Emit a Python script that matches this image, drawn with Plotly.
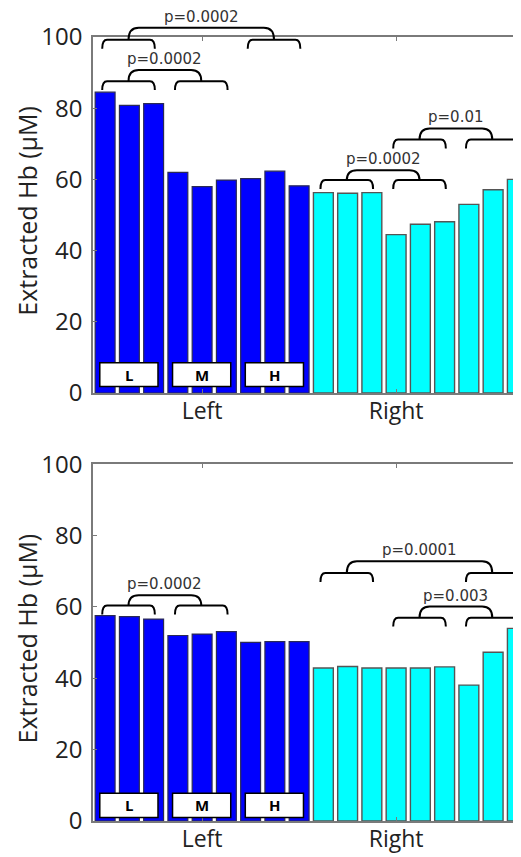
import plotly.graph_objects as go

# ---------------- data ----------------
bar_positions = list(range(1, 19))
left_positions = bar_positions[:9]
right_positions = bar_positions[9:]

top_left_values = [84.5, 80.8, 81.3, 62.0, 58.0, 59.8, 60.2, 62.3, 58.2]
top_right_values = [56.3, 56.1, 56.3, 44.5, 47.4, 48.1, 53.0, 57.1, 60.0]
bottom_left_values = [57.6, 57.3, 56.6, 52.0, 52.4, 53.1, 50.1, 50.3, 50.3]
bottom_right_values = [42.9, 43.3, 42.9, 42.9, 42.9, 43.2, 38.1, 47.3, 54.0]

xtick_vals = [5, 13]
xtick_text = ["Left", "Right"]
ytick_vals = [0, 20, 40, 60, 80, 100]
level_labels = ["L", "M", "H"]
level_starts = [1, 4, 7]

# brackets: (first group start bar, second group start bar, small-bracket level, connector level, label)
top_brackets = [
    (1, 7, 99.2, 102.6, "p=0.0002"),
    (1, 4, 87.6, 90.7, "p=0.0002"),
    (10, 13, 59.8, 62.6, "p=0.0002"),
    (13, 16, 71.2, 74.3, "p=0.01"),
]
bottom_brackets = [
    (1, 4, 60.4, 63.3, "p=0.0002"),
    (10, 16, 69.5, 72.8, "p=0.0001"),
    (13, 16, 57.0, 60.1, "p=0.003"),
]

y_title = "Extracted Hb (μM)"

# ---------------- figure ----------------
BLUE = "#0000FF"
CYAN = "#00FFFF"
AXIS = "#7a7a7a"
BAR_W = 0.82

fig = go.Figure()
panels = [
    ("x", "y", top_left_values, top_right_values, top_brackets, (1.8, 8.5)),
    ("x2", "y2", bottom_left_values, bottom_right_values, bottom_brackets, (1.0, 7.8)),
]

shapes = []
annotations = []

for xr, yr, lv, rv, brackets, box_y in panels:
    fig.add_trace(go.Bar(x=left_positions, y=lv, width=BAR_W, xaxis=xr, yaxis=yr,
                         marker=dict(color=BLUE, line=dict(color="#2a2a55", width=1.2)),
                         showlegend=False, hoverinfo="skip"))
    fig.add_trace(go.Bar(x=right_positions, y=rv, width=BAR_W, xaxis=xr, yaxis=yr,
                         marker=dict(color=CYAN, line=dict(color="#555555", width=1.4)),
                         showlegend=False, hoverinfo="skip"))

    ydom = yr + " domain"
    hook = 0.025
    dx = 0.2
    dx2 = 0.42
    for g1, g2, ys, yc, lab in brackets:
        s = ys / 100.0
        c = yc / 100.0
        for a in (g1, g2):
            x0 = a - 0.12
            x1 = a + 2.05
            path = (f"M {x0},{s - hook} Q {x0},{s} {x0 + dx},{s} "
                    f"L {x1 - dx},{s} Q {x1},{s} {x1},{s - hook}")
            shapes.append(dict(type="path", xref=xr, yref=ydom, path=path,
                               line=dict(color="black", width=2)))
        cA = g1 + 0.965
        cB = g2 + 0.965
        path = (f"M {cA},{s} Q {cA},{c} {cA + dx2},{c} "
                f"L {cB - dx2},{c} Q {cB},{c} {cB},{s}")
        shapes.append(dict(type="path", xref=xr, yref=ydom, path=path,
                           line=dict(color="black", width=2)))
        annotations.append(dict(x=(cA + cB) / 2, y=c, xref=xr, yref=ydom,
                                text=lab, showarrow=False, yanchor="middle", yshift=11,
                                font=dict(family="DejaVu Sans", size=15, color="#333333")))

    for st, lab in zip(level_starts, level_labels):
        shapes.append(dict(type="rect", xref=xr, yref=yr, x0=st - 0.22, x1=st + 2.18,
                           y0=box_y[0], y1=box_y[1], fillcolor="white",
                           line=dict(color="black", width=1.5)))
        annotations.append(dict(x=st + 0.98, y=(box_y[0] + box_y[1]) / 2, xref=xr, yref=yr,
                                text=f"<b>{lab}</b>", showarrow=False,
                                font=dict(family="Open Sans", size=15, color="black")))

# y titles
for dom in ([0.5459, 1.0], [0.0, 0.455]):
    annotations.append(dict(x=-0.155, y=(dom[0] + dom[1]) / 2 + 0.005, xref="paper", yref="paper",
                            text=y_title, textangle=-90, showarrow=False,
                            xanchor="center", yanchor="middle",
                            font=dict(family="Open Sans", size=25, color="#222222")))

xaxis_common = dict(range=[0.5, 18.15], tickvals=xtick_vals, ticktext=xtick_text,
                    ticks="inside", ticklen=4, tickcolor=AXIS, tickwidth=1.2,
                    showline=True, linecolor=AXIS, linewidth=1.5, mirror="ticks",
                    showgrid=False, zeroline=False, fixedrange=True, ticklabelstandoff=-3,
                    tickfont=dict(family="Open Sans", size=23, color="#222222"))
yaxis_common = dict(range=[0, 100], tickvals=ytick_vals,
                    ticks="inside", ticklen=4, tickcolor=AXIS, tickwidth=1.2,
                    showline=True, linecolor=AXIS, linewidth=1.5, mirror=False,
                    showgrid=False, zeroline=False, fixedrange=True, ticklabelstandoff=4,
                    tickfont=dict(family="Open Sans", size=24, color="#222222"))

# the page body adds an 8px offset; the figure is sized to fill the rest of the window
fig.update_layout(
    width=513, height=849,
    margin=dict(l=85, r=0, t=29, b=36, autoexpand=False),
    paper_bgcolor="white", plot_bgcolor="white",
    barmode="overlay",
    xaxis=dict(domain=[0, 1], anchor="y", **xaxis_common),
    yaxis=dict(domain=[0.5459, 1.0], anchor="x", **yaxis_common),
    xaxis2=dict(domain=[0, 1], anchor="y2", **xaxis_common),
    yaxis2=dict(domain=[0.0, 0.455], anchor="x2", **yaxis_common),
    shapes=shapes,
    annotations=annotations,
    showlegend=False,
)

fig.write_html("out.html")
